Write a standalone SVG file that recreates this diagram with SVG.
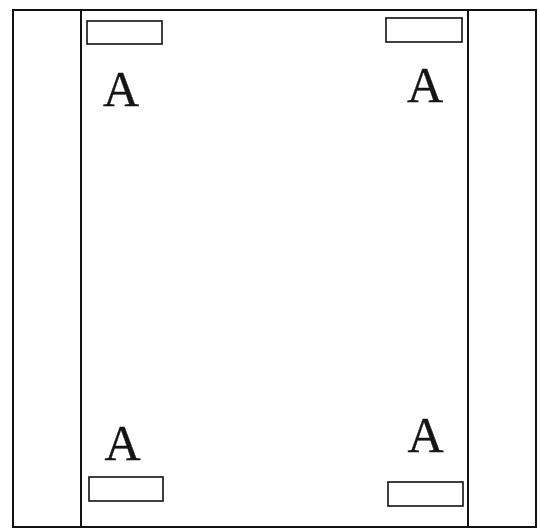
<svg xmlns="http://www.w3.org/2000/svg" width="540" height="528" viewBox="0 0 540 528">
<style>
.frame{fill:none;stroke:#111;stroke-width:2}
.slot{fill:#fff;stroke:#111;stroke-width:1.6}
.lbl{font-family:"Liberation Serif","Times New Roman",serif;font-size:50px;fill:#151515;stroke:#151515;stroke-width:0.4;text-anchor:middle}
</style>
<rect width="540" height="528" fill="#fff"/>
<g id="frame">
<rect class="frame" x="13" y="10" width="523" height="517"/>
<line class="frame" x1="81" y1="10" x2="81" y2="527"/>
<line class="frame" x1="468" y1="10" x2="468" y2="527"/>
</g>
<g id="top-left">
<rect class="slot" x="87" y="21" width="75" height="23"/>
<text class="lbl" x="121" y="106">A</text>
</g>
<g id="top-right">
<rect class="slot" x="386" y="18" width="76" height="24"/>
<text class="lbl" x="425" y="102">A</text>
</g>
<g id="bottom-left">
<rect class="slot" x="89" y="477" width="74" height="24"/>
<text class="lbl" x="122.5" y="460">A</text>
</g>
<g id="bottom-right">
<rect class="slot" x="388" y="482" width="75" height="24"/>
<text class="lbl" x="425.5" y="452">A</text>
</g>
</svg>
